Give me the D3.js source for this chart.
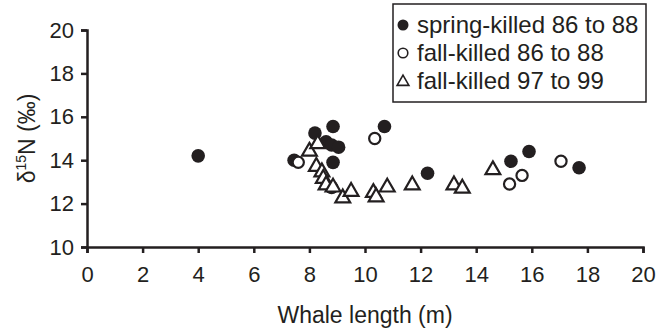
<!DOCTYPE html>
<html>
<head>
<meta charset="utf-8">
<script src="https://cdn.jsdelivr.net/npm/d3@7"></script>
<style>
  body { margin: 0; background: #fff; }
  svg text { font-family: "Liberation Sans", Arial, sans-serif; fill: #231f20; }
</style>
</head>
<body>
<div id="chart"></div>
<script>
// spring-killed 86 to 88 (filled circles): [length m, d15N]
const springKilled = [
    [4.0, 14.2], [7.45, 14.0], [8.2, 15.25], [8.85, 15.55], [8.6, 14.85],
    [8.8, 14.7], [9.05, 14.6], [8.85, 13.9], [8.8, 12.75], [10.7, 15.55],
    [12.25, 13.4], [15.25, 13.95], [15.9, 14.4], [17.7, 13.65]
];
// fall-killed 86 to 88 (open circles)
const fallKilled86 = [
    [7.6, 13.9], [10.35, 15.0], [15.2, 12.9], [15.65, 13.3], [17.05, 13.95]
];
// fall-killed 97 to 99 (open triangles)
const fallKilled97 = [
    [8.0, 14.45], [8.3, 14.8], [8.25, 13.75], [8.45, 13.5], [8.5, 13.2],
    [8.6, 12.9], [8.85, 12.8], [9.2, 12.3], [9.5, 12.6], [10.3, 12.55],
    [10.4, 12.35], [10.8, 12.8], [11.7, 12.9], [13.2, 12.9], [13.5, 12.75],
    [14.6, 13.6]
];
const xTicks = [0, 2, 4, 6, 8, 10, 12, 14, 16, 18, 20];
const yTicks = [10, 12, 14, 16, 18, 20];
const legendLabels = ["spring-killed 86 to 88", "fall-killed 86 to 88", "fall-killed 97 to 99"];

const width = 657, height = 332;
const ink = "#231f20";

const svg = d3.select("#chart")
    .append("svg")
    .attr("width", width)
    .attr("height", height);

const x = d3.scaleLinear().domain([0, 20]).range([87, 643]);
const y = d3.scaleLinear().domain([10, 20]).range([247, 30]);

// Axes
const xAxis = svg.append("g")
    .attr("transform", `translate(0,${y(10)})`)
    .call(d3.axisBottom(x).tickValues(xTicks).tickSize(6).tickPadding(13));
const yAxis = svg.append("g")
    .attr("transform", `translate(${x(0)},0)`)
    .call(d3.axisLeft(y).tickValues(yTicks).tickSize(6).tickPadding(7));

[xAxis, yAxis].forEach(g => {
    g.select(".domain").attr("stroke", ink).attr("stroke-width", 2.5);
    g.selectAll(".tick line").attr("stroke", ink).attr("stroke-width", 2.5);
    g.selectAll(".tick text")
        .attr("font-size", 22)
        .attr("font-family", "Liberation Sans, Arial, sans-serif")
        .attr("fill", ink);
});

// Axis titles
svg.append("text")
    .attr("x", (x(0) + x(20)) / 2)
    .attr("y", 323)
    .attr("text-anchor", "middle")
    .attr("font-size", 23)
    .text("Whale length (m)");

const yTitle = svg.append("text")
    .attr("transform", `translate(35,${(y(10) + y(20)) / 2}) rotate(-90)`)
    .attr("text-anchor", "middle")
    .attr("font-size", 23);
yTitle.append("tspan").text("δ");
yTitle.append("tspan").attr("font-size", 14).attr("dy", -9).text("15");
yTitle.append("tspan").attr("dy", 9).text("N (‰)");

// Markers
const tri = d3.symbol().type(d3.symbolTriangle).size(95);

const drawFilled = (g, px, py) => g.append("circle")
    .attr("cx", px).attr("cy", py).attr("r", 6.8)
    .attr("fill", ink);
const drawOpen = (g, px, py) => g.append("circle")
    .attr("cx", px).attr("cy", py).attr("r", 5.6)
    .attr("fill", "#fff").attr("stroke", ink).attr("stroke-width", 2.2);
const drawTri = (g, px, py) => g.append("path")
    .attr("d", tri())
    .attr("transform", `translate(${px},${py + 1})`)
    .attr("fill", "#fff").attr("stroke", ink).attr("stroke-width", 2.2);

const marks = svg.append("g");
springKilled.forEach(d => drawFilled(marks, x(d[0]), y(d[1])));
fallKilled86.forEach(d => drawOpen(marks, x(d[0]), y(d[1])));
fallKilled97.forEach(d => drawTri(marks, x(d[0]), y(d[1])));

// Legend
const legend = svg.append("g");
legend.append("rect")
    .attr("x", 393).attr("y", 4)
    .attr("width", 253).attr("height", 98)
    .attr("fill", "#fff").attr("stroke", ink).attr("stroke-width", 1.5);

const legendY = [25, 53, 81];
const drawers = [
    (g, px, py) => g.append("circle").attr("cx", px).attr("cy", py).attr("r", 5.5).attr("fill", ink),
    (g, px, py) => g.append("circle").attr("cx", px).attr("cy", py).attr("r", 4.8)
        .attr("fill", "#fff").attr("stroke", ink).attr("stroke-width", 1.6),
    (g, px, py) => g.append("path").attr("d", d3.symbol().type(d3.symbolTriangle).size(60)())
        .attr("transform", `translate(${px},${py + 1})`)
        .attr("fill", "#fff").attr("stroke", ink).attr("stroke-width", 1.6)
];
legendLabels.forEach((label, i) => {
    drawers[i](legend, 403, legendY[i]);
    legend.append("text")
        .attr("x", 417)
        .attr("y", legendY[i])
        .attr("dy", "0.35em")
        .attr("font-size", 24)
        .text(label);
});
</script>
</body>
</html>
